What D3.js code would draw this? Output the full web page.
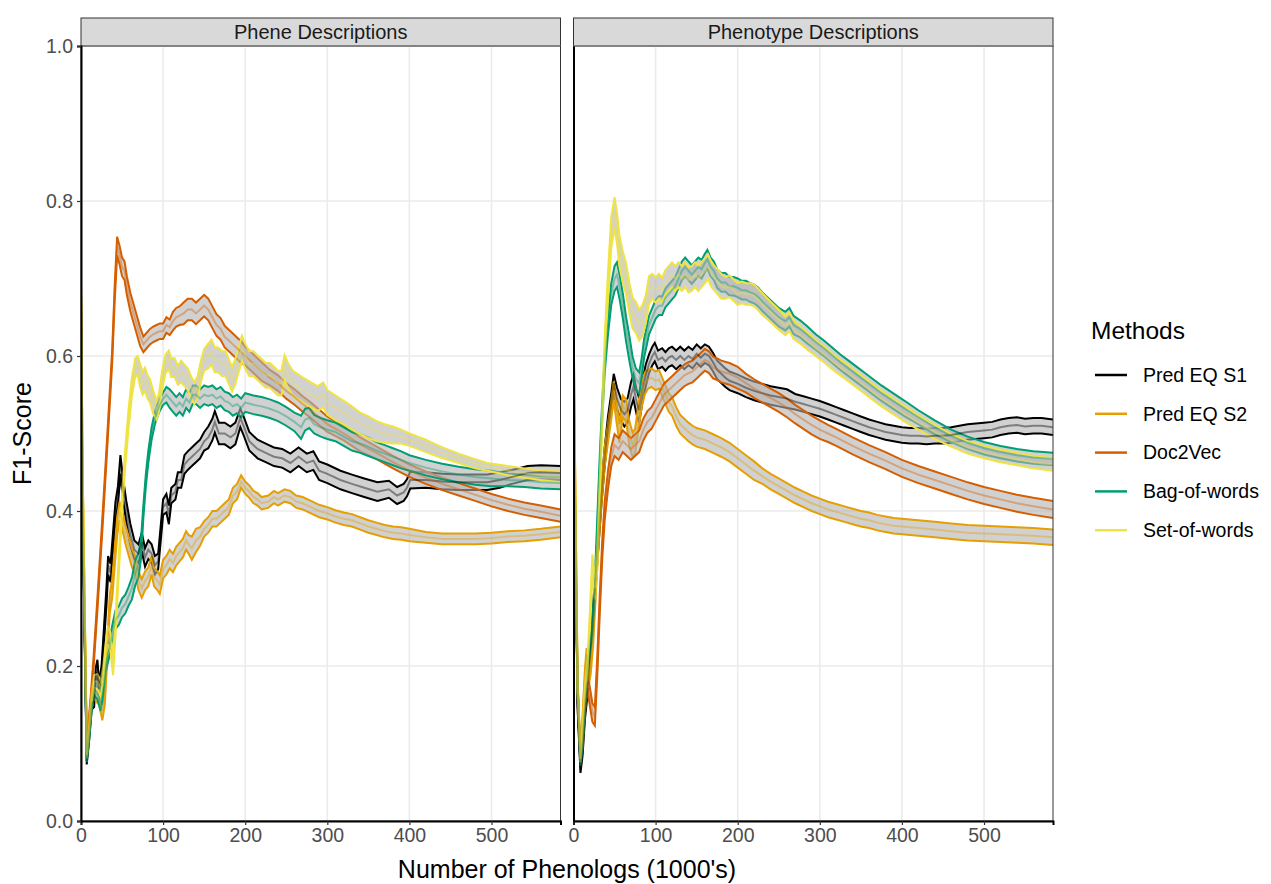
<!DOCTYPE html>
<html>
<head>
<meta charset="utf-8">
<script src="https://cdn.jsdelivr.net/npm/d3@7"></script>
<style>
  body { margin: 0; background: #fff; }
  svg text { font-family: "Liberation Sans", Arial, Helvetica, sans-serif; }
</style>
</head>
<body>
<svg id="chart"></svg>
<script>
const methods = ["Pred EQ S1", "Pred EQ S2", "Doc2Vec", "Bag-of-words", "Set-of-words"];
const methodColors = ["#000000", "#E69F00", "#D55E00", "#009E73", "#F0E442"];
const panelTitles = ["Phene Descriptions", "Phenotype Descriptions"];
const xTickValues = [0, 100, 200, 300, 400, 500];
const yTickValues = [0, 0.2, 0.4, 0.6, 0.8, 1.0];

// points are [phenologs (1000's), mean F1, half width of the band]
const pheneEqS1 = [[0,0.66,0.005],[2,0.40,0.005],[7,0.077,0.004],[10,0.11,0.005],[13,0.15,0.006],[16,0.155,0.008],[18,0.19,0.008],[20,0.20,0.008],[22,0.17,0.008],[25,0.19,0.01],[28,0.24,0.01],[31,0.29,0.012],[33,0.33,0.012],[36,0.32,0.012],[39,0.36,0.012],[42,0.40,0.012],[45,0.42,0.012],[48,0.46,0.012],[51,0.43,0.014],[55,0.40,0.014],[60,0.37,0.014],[65,0.35,0.012],[70,0.345,0.012],[74,0.36,0.012],[78,0.34,0.012],[82,0.35,0.012],[86,0.345,0.012],[90,0.33,0.012],[94,0.335,0.01],[97,0.37,0.01],[100,0.405,0.01],[104,0.41,0.012],[107,0.395,0.012],[110,0.42,0.01],[115,0.425,0.01],[118,0.44,0.01],[122,0.44,0.01],[126,0.46,0.012],[130,0.465,0.012],[135,0.47,0.012],[140,0.475,0.012],[145,0.48,0.012],[150,0.49,0.012],[155,0.495,0.014],[160,0.505,0.014],[163,0.515,0.014],[168,0.50,0.014],[175,0.50,0.014],[182,0.495,0.014],[188,0.50,0.014],[194,0.52,0.012],[198,0.51,0.012],[205,0.49,0.012],[215,0.48,0.012],[225,0.475,0.012],[235,0.47,0.012],[245,0.468,0.012],[255,0.462,0.012],[265,0.47,0.012],[275,0.462,0.012],[283,0.465,0.012],[290,0.452,0.012],[300,0.448,0.012],[316,0.44,0.012],[330,0.435,0.012],[345,0.43,0.012],[361,0.425,0.012],[375,0.428,0.011],[385,0.42,0.011],[393,0.424,0.011],[397,0.43,0.011],[401,0.44,0.011],[420,0.44,0.01],[440,0.438,0.01],[460,0.437,0.01],[480,0.437,0.01],[495,0.437,0.01],[510,0.44,0.01],[525,0.444,0.009],[544,0.449,0.009],[560,0.45,0.009],[584,0.449,0.009]];
const pheneEqS2 = [[0,0.69,0.005],[2,0.45,0.005],[7,0.10,0.005],[10,0.13,0.006],[14,0.17,0.008],[18,0.165,0.01],[22,0.16,0.01],[26,0.14,0.01],[29,0.16,0.01],[32,0.22,0.012],[35,0.28,0.012],[38,0.30,0.012],[41,0.34,0.012],[44,0.38,0.012],[47,0.40,0.012],[50,0.39,0.012],[54,0.37,0.012],[58,0.355,0.012],[62,0.34,0.012],[66,0.33,0.012],[70,0.31,0.012],[74,0.30,0.012],[78,0.31,0.012],[82,0.315,0.012],[86,0.33,0.012],[89,0.315,0.012],[93,0.31,0.012],[96,0.305,0.012],[100,0.325,0.012],[104,0.33,0.012],[108,0.338,0.012],[112,0.333,0.012],[116,0.342,0.012],[120,0.347,0.012],[124,0.352,0.012],[128,0.362,0.012],[131,0.357,0.012],[135,0.352,0.015],[140,0.362,0.015],[145,0.367,0.012],[150,0.377,0.01],[155,0.382,0.01],[160,0.39,0.01],[165,0.39,0.01],[170,0.395,0.01],[175,0.40,0.01],[180,0.405,0.01],[185,0.42,0.01],[190,0.425,0.01],[195,0.438,0.008],[200,0.43,0.008],[205,0.425,0.008],[210,0.418,0.008],[215,0.415,0.008],[220,0.41,0.008],[228,0.412,0.008],[235,0.418,0.008],[240,0.415,0.008],[248,0.42,0.008],[255,0.418,0.008],[262,0.412,0.008],[270,0.41,0.008],[280,0.405,0.008],[290,0.40,0.008],[300,0.397,0.008],[310,0.393,0.008],[320,0.39,0.008],[330,0.388,0.008],[340,0.384,0.008],[350,0.38,0.008],[360,0.377,0.008],[370,0.374,0.008],[380,0.372,0.008],[390,0.371,0.008],[400,0.369,0.008],[420,0.366,0.007],[440,0.364,0.007],[460,0.364,0.007],[480,0.364,0.007],[500,0.365,0.007],[520,0.367,0.007],[540,0.368,0.007],[560,0.37,0.007],[584,0.373,0.007]];
const pheneDoc2Vec = [[0,0.62,0.005],[2,0.40,0.005],[7,0.10,0.005],[10,0.13,0.006],[15,0.20,0.007],[20,0.28,0.008],[27,0.40,0.008],[32,0.49,0.008],[38,0.60,0.008],[41,0.68,0.01],[44,0.742,0.012],[47,0.73,0.012],[50,0.715,0.012],[53,0.71,0.012],[56,0.69,0.012],[60,0.67,0.012],[64,0.655,0.012],[68,0.64,0.012],[72,0.625,0.012],[76,0.615,0.01],[80,0.62,0.01],[84,0.625,0.01],[88,0.628,0.01],[92,0.63,0.01],[96,0.632,0.01],[100,0.632,0.01],[104,0.64,0.01],[108,0.637,0.01],[112,0.645,0.012],[116,0.65,0.012],[120,0.652,0.012],[125,0.655,0.014],[130,0.66,0.014],[135,0.66,0.014],[140,0.655,0.014],[145,0.66,0.014],[150,0.665,0.014],[155,0.66,0.014],[160,0.65,0.014],[165,0.64,0.014],[170,0.635,0.014],[175,0.625,0.014],[180,0.62,0.014],[185,0.615,0.014],[190,0.61,0.014],[195,0.605,0.014],[200,0.60,0.012],[210,0.59,0.012],[220,0.58,0.012],[230,0.572,0.01],[240,0.565,0.01],[250,0.555,0.01],[260,0.547,0.01],[270,0.538,0.01],[280,0.53,0.01],[290,0.521,0.01],[300,0.512,0.01],[320,0.50,0.009],[340,0.486,0.009],[360,0.475,0.008],[380,0.463,0.008],[400,0.452,0.008],[420,0.443,0.008],[440,0.435,0.008],[460,0.428,0.008],[480,0.421,0.008],[500,0.414,0.008],[520,0.408,0.008],[540,0.403,0.008],[560,0.399,0.008],[584,0.394,0.008]];
const pheneBagOfWords = [[0,0.64,0.005],[2,0.40,0.005],[7,0.08,0.004],[10,0.11,0.005],[13,0.15,0.007],[16,0.17,0.008],[20,0.165,0.008],[24,0.15,0.008],[27,0.17,0.008],[30,0.20,0.008],[34,0.22,0.01],[38,0.24,0.012],[42,0.26,0.012],[46,0.265,0.012],[50,0.275,0.012],[54,0.28,0.012],[58,0.29,0.012],[62,0.30,0.014],[66,0.32,0.016],[70,0.33,0.016],[73,0.35,0.012],[76,0.40,0.008],[79,0.44,0.008],[82,0.47,0.008],[86,0.50,0.008],[90,0.52,0.008],[95,0.535,0.008],[100,0.545,0.008],[104,0.55,0.01],[108,0.545,0.012],[112,0.54,0.012],[116,0.535,0.012],[120,0.54,0.012],[124,0.535,0.012],[128,0.545,0.012],[132,0.54,0.012],[136,0.55,0.012],[140,0.55,0.012],[145,0.545,0.012],[150,0.55,0.012],[155,0.548,0.012],[160,0.55,0.012],[165,0.545,0.012],[170,0.548,0.012],[175,0.542,0.012],[180,0.54,0.012],[185,0.535,0.012],[190,0.538,0.012],[195,0.533,0.012],[200,0.54,0.012],[210,0.537,0.012],[220,0.535,0.012],[230,0.532,0.012],[240,0.528,0.012],[250,0.522,0.012],[260,0.515,0.012],[268,0.508,0.015],[273,0.518,0.014],[278,0.52,0.013],[284,0.512,0.012],[292,0.508,0.012],[300,0.505,0.012],[310,0.502,0.012],[320,0.496,0.012],[330,0.49,0.012],[340,0.487,0.012],[350,0.483,0.012],[360,0.478,0.011],[370,0.474,0.011],[380,0.47,0.011],[390,0.466,0.011],[400,0.462,0.01],[420,0.456,0.01],[440,0.451,0.01],[460,0.447,0.01],[480,0.444,0.01],[500,0.442,0.01],[520,0.44,0.008],[540,0.439,0.008],[560,0.437,0.008],[584,0.436,0.008]];
const pheneSetOfWords = [[0,0.69,0.005],[2,0.45,0.005],[7,0.085,0.004],[10,0.12,0.005],[13,0.16,0.007],[16,0.18,0.008],[20,0.18,0.01],[24,0.17,0.01],[27,0.19,0.01],[30,0.22,0.01],[33,0.24,0.012],[36,0.23,0.012],[39,0.20,0.012],[42,0.25,0.012],[46,0.33,0.012],[50,0.41,0.012],[54,0.47,0.012],[58,0.52,0.012],[62,0.56,0.012],[66,0.585,0.012],[69,0.588,0.012],[72,0.575,0.015],[75,0.565,0.015],[78,0.57,0.015],[81,0.56,0.015],[84,0.555,0.015],[88,0.54,0.015],[92,0.53,0.012],[95,0.54,0.012],[99,0.57,0.012],[103,0.59,0.012],[107,0.595,0.012],[110,0.585,0.012],[114,0.585,0.012],[118,0.575,0.012],[122,0.58,0.014],[126,0.575,0.014],[130,0.57,0.014],[134,0.56,0.014],[138,0.552,0.014],[142,0.56,0.014],[146,0.58,0.014],[150,0.595,0.014],[155,0.60,0.016],[159,0.605,0.016],[163,0.595,0.016],[167,0.595,0.016],[172,0.59,0.016],[176,0.59,0.016],[180,0.58,0.016],[184,0.57,0.016],[188,0.58,0.016],[192,0.595,0.016],[196,0.61,0.016],[200,0.60,0.016],[205,0.59,0.016],[210,0.59,0.016],[215,0.585,0.016],[220,0.58,0.016],[225,0.575,0.016],[230,0.575,0.016],[235,0.57,0.016],[240,0.565,0.016],[244,0.565,0.016],[248,0.585,0.016],[252,0.575,0.016],[258,0.565,0.016],[265,0.56,0.016],[272,0.555,0.016],[280,0.55,0.016],[288,0.545,0.016],[295,0.55,0.016],[300,0.54,0.016],[310,0.533,0.016],[320,0.527,0.015],[330,0.52,0.015],[340,0.513,0.014],[350,0.508,0.014],[360,0.503,0.013],[370,0.5,0.012],[380,0.498,0.011],[390,0.496,0.009],[400,0.492,0.008],[420,0.484,0.008],[438,0.476,0.007],[460,0.468,0.006],[480,0.461,0.006],[495,0.457,0.005],[520,0.452,0.006],[540,0.449,0.006],[560,0.446,0.006],[584,0.444,0.007]];

const phenotypeEqS1 = [[0,0.60,0.005],[2,0.40,0.005],[5,0.15,0.005],[8.5,0.066,0.004],[11,0.09,0.006],[14,0.14,0.008],[17,0.17,0.008],[20,0.21,0.01],[23,0.25,0.012],[26,0.30,0.012],[30,0.36,0.012],[34,0.42,0.012],[38,0.47,0.012],[42,0.51,0.012],[46,0.54,0.012],[49,0.565,0.012],[53,0.545,0.014],[58,0.53,0.014],[62,0.525,0.016],[66,0.53,0.016],[70,0.55,0.016],[73,0.56,0.016],[77,0.54,0.016],[80,0.53,0.016],[84,0.555,0.014],[88,0.575,0.014],[92,0.59,0.012],[96,0.60,0.012],[99,0.605,0.012],[103,0.595,0.012],[108,0.598,0.012],[112,0.593,0.012],[116,0.598,0.012],[120,0.60,0.012],[125,0.595,0.012],[130,0.60,0.012],[135,0.595,0.012],[140,0.60,0.012],[145,0.596,0.012],[150,0.603,0.012],[155,0.598,0.012],[160,0.603,0.012],[165,0.60,0.012],[170,0.592,0.012],[175,0.582,0.012],[180,0.577,0.012],[185,0.572,0.012],[190,0.568,0.012],[200,0.564,0.012],[210,0.559,0.012],[220,0.555,0.012],[230,0.552,0.012],[240,0.549,0.012],[250,0.547,0.012],[260,0.545,0.012],[270,0.541,0.01],[280,0.538,0.01],[290,0.535,0.01],[300,0.532,0.01],[310,0.528,0.01],[320,0.524,0.01],[330,0.52,0.01],[340,0.516,0.01],[350,0.512,0.01],[360,0.508,0.01],[370,0.505,0.01],[380,0.502,0.01],[390,0.5,0.01],[400,0.498,0.01],[410,0.497,0.01],[420,0.497,0.01],[430,0.496,0.01],[440,0.497,0.01],[450,0.497,0.01],[460,0.498,0.01],[470,0.5,0.01],[480,0.502,0.01],[490,0.503,0.01],[500,0.504,0.01],[510,0.505,0.01],[520,0.508,0.01],[530,0.51,0.01],[540,0.511,0.01],[550,0.509,0.01],[560,0.51,0.01],[570,0.51,0.01],[584,0.508,0.01]];
const phenotypeEqS2 = [[0,0.66,0.005],[2,0.45,0.005],[5,0.18,0.005],[8.5,0.085,0.004],[11,0.13,0.006],[14,0.19,0.008],[16,0.215,0.008],[18,0.18,0.008],[21,0.20,0.01],[24,0.24,0.012],[27,0.30,0.012],[30,0.36,0.012],[34,0.42,0.012],[38,0.47,0.012],[42,0.50,0.012],[46,0.53,0.012],[49,0.555,0.012],[52,0.53,0.012],[56,0.50,0.012],[60,0.535,0.014],[64,0.53,0.014],[68,0.50,0.016],[72,0.485,0.016],[75,0.49,0.016],[79,0.52,0.016],[83,0.55,0.016],[87,0.565,0.014],[91,0.57,0.012],[95,0.572,0.012],[100,0.568,0.012],[104,0.57,0.012],[108,0.56,0.012],[112,0.55,0.012],[116,0.54,0.012],[120,0.535,0.012],[125,0.522,0.012],[130,0.512,0.012],[135,0.507,0.012],[140,0.502,0.012],[145,0.498,0.012],[150,0.495,0.012],[160,0.492,0.012],[170,0.487,0.012],[180,0.482,0.012],[190,0.476,0.012],[200,0.468,0.012],[210,0.46,0.012],[220,0.452,0.012],[230,0.445,0.01],[240,0.438,0.01],[250,0.432,0.01],[260,0.426,0.01],[270,0.42,0.01],[280,0.415,0.01],[290,0.41,0.01],[300,0.406,0.01],[310,0.402,0.01],[320,0.399,0.01],[330,0.396,0.01],[340,0.393,0.01],[350,0.39,0.01],[360,0.388,0.01],[370,0.385,0.01],[380,0.383,0.01],[390,0.381,0.01],[400,0.38,0.01],[420,0.378,0.01],[440,0.376,0.01],[460,0.374,0.01],[480,0.372,0.01],[500,0.371,0.01],[520,0.37,0.01],[540,0.369,0.01],[560,0.368,0.01],[584,0.366,0.01]];
const phenotypeDoc2Vec = [[0,0.58,0.005],[2,0.38,0.005],[5,0.17,0.005],[8.5,0.08,0.004],[11,0.10,0.006],[14,0.15,0.008],[17,0.18,0.01],[20,0.16,0.012],[23,0.14,0.012],[26,0.135,0.012],[29,0.20,0.012],[32,0.28,0.012],[35,0.35,0.012],[38,0.40,0.012],[42,0.44,0.012],[46,0.47,0.012],[50,0.485,0.014],[55,0.48,0.014],[60,0.49,0.014],[65,0.485,0.014],[70,0.48,0.014],[75,0.485,0.014],[80,0.49,0.014],[85,0.505,0.014],[90,0.515,0.014],[95,0.52,0.014],[100,0.53,0.014],[105,0.54,0.014],[110,0.55,0.014],[115,0.555,0.014],[120,0.56,0.014],[125,0.565,0.014],[130,0.57,0.014],[135,0.575,0.014],[140,0.578,0.014],[145,0.58,0.014],[150,0.585,0.014],[155,0.59,0.014],[160,0.595,0.014],[165,0.592,0.014],[170,0.585,0.014],[175,0.583,0.014],[180,0.58,0.014],[190,0.577,0.014],[200,0.572,0.014],[210,0.565,0.012],[220,0.558,0.012],[230,0.552,0.012],[240,0.546,0.012],[250,0.54,0.012],[260,0.533,0.012],[270,0.525,0.012],[280,0.518,0.012],[290,0.511,0.012],[300,0.505,0.012],[310,0.5,0.011],[320,0.495,0.011],[340,0.484,0.011],[360,0.474,0.011],[380,0.465,0.011],[400,0.455,0.011],[420,0.447,0.011],[440,0.44,0.011],[460,0.433,0.011],[480,0.426,0.011],[500,0.42,0.011],[520,0.415,0.011],[540,0.41,0.011],[560,0.406,0.011],[584,0.402,0.011]];
const phenotypeBagOfWords = [[0,0.62,0.005],[2,0.40,0.005],[5,0.17,0.005],[8.5,0.075,0.004],[11,0.10,0.006],[14,0.15,0.008],[17,0.20,0.01],[20,0.23,0.012],[23,0.25,0.012],[26,0.30,0.012],[29,0.38,0.012],[32,0.46,0.012],[35,0.53,0.012],[38,0.59,0.012],[42,0.64,0.012],[46,0.68,0.014],[50,0.70,0.016],[53,0.705,0.016],[56,0.69,0.016],[60,0.665,0.016],[64,0.635,0.016],[68,0.61,0.016],[72,0.585,0.014],[76,0.57,0.014],[80,0.565,0.014],[83,0.585,0.012],[86,0.61,0.012],[89,0.625,0.012],[92,0.64,0.012],[96,0.65,0.012],[100,0.66,0.012],[104,0.665,0.012],[108,0.665,0.012],[112,0.675,0.012],[116,0.68,0.012],[120,0.685,0.012],[124,0.69,0.012],[128,0.70,0.012],[132,0.71,0.012],[136,0.715,0.012],[140,0.71,0.012],[144,0.705,0.012],[148,0.71,0.012],[152,0.715,0.012],[156,0.712,0.012],[160,0.72,0.012],[163,0.725,0.012],[167,0.715,0.012],[171,0.71,0.012],[175,0.70,0.012],[180,0.695,0.012],[185,0.695,0.012],[190,0.69,0.012],[195,0.69,0.012],[200,0.688,0.012],[205,0.685,0.012],[210,0.685,0.012],[215,0.682,0.012],[220,0.68,0.012],[225,0.676,0.012],[230,0.67,0.012],[240,0.66,0.012],[250,0.65,0.012],[258,0.645,0.012],[263,0.65,0.012],[268,0.64,0.012],[276,0.635,0.011],[285,0.627,0.011],[295,0.618,0.01],[305,0.61,0.01],[315,0.601,0.01],[325,0.592,0.01],[335,0.584,0.01],[345,0.576,0.01],[355,0.568,0.01],[365,0.56,0.01],[375,0.552,0.01],[385,0.545,0.01],[395,0.538,0.01],[405,0.531,0.01],[420,0.521,0.009],[440,0.508,0.009],[460,0.497,0.008],[480,0.488,0.008],[500,0.481,0.008],[520,0.476,0.008],[540,0.472,0.008],[560,0.469,0.008],[584,0.467,0.008]];
const phenotypeSetOfWords = [[0,0.64,0.005],[2,0.42,0.005],[5,0.17,0.005],[8.5,0.08,0.004],[11,0.12,0.006],[14,0.17,0.008],[17,0.20,0.01],[20,0.26,0.012],[23,0.33,0.014],[26,0.30,0.014],[29,0.34,0.014],[32,0.43,0.014],[35,0.52,0.014],[38,0.61,0.016],[42,0.69,0.018],[46,0.76,0.02],[50,0.785,0.02],[53,0.765,0.02],[56,0.735,0.02],[60,0.715,0.02],[64,0.70,0.02],[68,0.675,0.02],[72,0.655,0.02],[76,0.65,0.02],[80,0.64,0.02],[84,0.645,0.02],[88,0.66,0.018],[92,0.685,0.018],[96,0.69,0.016],[100,0.685,0.016],[104,0.69,0.016],[108,0.685,0.016],[112,0.695,0.016],[116,0.70,0.016],[120,0.705,0.016],[124,0.70,0.016],[128,0.705,0.016],[132,0.70,0.016],[136,0.705,0.016],[140,0.698,0.016],[144,0.70,0.016],[148,0.705,0.016],[152,0.70,0.016],[156,0.705,0.016],[160,0.71,0.016],[164,0.715,0.016],[168,0.705,0.016],[172,0.70,0.016],[176,0.695,0.016],[180,0.69,0.016],[185,0.688,0.014],[190,0.69,0.014],[195,0.685,0.014],[200,0.68,0.014],[205,0.682,0.014],[210,0.68,0.014],[215,0.68,0.014],[220,0.678,0.014],[225,0.673,0.014],[230,0.667,0.014],[240,0.657,0.013],[250,0.647,0.013],[258,0.639,0.012],[263,0.644,0.012],[268,0.634,0.012],[276,0.627,0.011],[285,0.619,0.011],[295,0.61,0.01],[305,0.602,0.01],[315,0.593,0.01],[325,0.585,0.01],[335,0.577,0.01],[345,0.569,0.01],[355,0.561,0.01],[365,0.553,0.01],[375,0.545,0.01],[385,0.538,0.01],[395,0.531,0.01],[405,0.524,0.01],[420,0.514,0.009],[440,0.502,0.009],[460,0.491,0.008],[480,0.482,0.008],[500,0.476,0.008],[520,0.471,0.008],[540,0.467,0.008],[560,0.463,0.008],[584,0.46,0.008]];

const panelSeries = [
    [pheneEqS1, pheneEqS2, pheneDoc2Vec, pheneBagOfWords, pheneSetOfWords],
    [phenotypeEqS1, phenotypeEqS2, phenotypeDoc2Vec, phenotypeBagOfWords, phenotypeSetOfWords]
];

class FacetChart {
    constructor(_config) {
        this.config = {
            parentElement: _config.parentElement,
            containerWidth: _config.containerWidth || 1271,
            containerHeight: _config.containerHeight || 884,
            margin: { top: 46, bottom: 63, left: 81, right: 218 },
            panelGap: 13,
            stripHeight: 28
        }
        this.initVis();
    }

    initVis() {
        let vis = this;
        vis.height = vis.config.containerHeight - vis.config.margin.top - vis.config.margin.bottom;
        vis.panelWidth = (vis.config.containerWidth - vis.config.margin.left - vis.config.margin.right - vis.config.panelGap) / 2;

        vis.xScale = d3.scaleLinear().domain([0, 584]).range([0, vis.panelWidth]);
        vis.yScale = d3.scaleLinear().domain([0, 1]).range([vis.height, 0]);
        vis.colorScale = d3.scaleOrdinal().domain(methods).range(methodColors);

        vis.svg = d3.select(vis.config.parentElement)
            .attr("width", vis.config.containerWidth)
            .attr("height", vis.config.containerHeight);

        vis.svg.append("defs").append("clipPath")
            .attr("id", "panel-clip")
            .append("rect")
            .attr("width", vis.panelWidth)
            .attr("height", vis.height);

        vis.area = d3.area()
            .x(d => vis.xScale(d[0]))
            .y0(d => vis.yScale(d[1] - d[2]))
            .y1(d => vis.yScale(d[1] + d[2]));
        vis.upper = d3.line().x(d => vis.xScale(d[0])).y(d => vis.yScale(d[1] + d[2]));
        vis.lower = d3.line().x(d => vis.xScale(d[0])).y(d => vis.yScale(d[1] - d[2]));
        vis.mean = d3.line().x(d => vis.xScale(d[0])).y(d => vis.yScale(d[1]));

        vis.updateVis();
    }

    updateVis() {
        let vis = this;
        vis.panels = panelTitles.map((t, i) => ({
            title: t,
            series: panelSeries[i].map((pts, j) => ({ method: methods[j], points: pts }))
        }));
        vis.renderVis();
    }

    renderVis() {
        let vis = this;
        const tickFont = "19.5px";

        vis.panels.forEach((p, i) => {
            let left = vis.config.margin.left + i * (vis.panelWidth + vis.config.panelGap);
            let g = vis.svg.append("g")
                .attr("transform", `translate(${left},${vis.config.margin.top})`);

            // strip
            g.append("rect")
                .attr("x", 0).attr("y", -vis.config.stripHeight)
                .attr("width", vis.panelWidth).attr("height", vis.config.stripHeight)
                .attr("fill", "#D9D9D9").attr("stroke", "#333333").attr("stroke-width", 1);
            g.append("text")
                .attr("x", vis.panelWidth / 2).attr("y", -vis.config.stripHeight / 2)
                .attr("dy", "0.36em")
                .attr("text-anchor", "middle")
                .style("font-size", "20px")
                .style("fill", "#1A1A1A")
                .text(p.title);

            // grid
            g.selectAll(".vgrid").data(xTickValues.filter(d => d > 0)).join("line")
                .attr("x1", d => vis.xScale(d)).attr("x2", d => vis.xScale(d))
                .attr("y1", 0).attr("y2", vis.height)
                .attr("stroke", "#EBEBEB").attr("stroke-width", 1.6);
            g.selectAll(".hgrid").data(yTickValues.filter(d => d > 0)).join("line")
                .attr("x1", 0).attr("x2", vis.panelWidth)
                .attr("y1", d => vis.yScale(d)).attr("y2", d => vis.yScale(d))
                .attr("stroke", "#EBEBEB").attr("stroke-width", 1.6);

            let plot = g.append("g").attr("clip-path", "url(#panel-clip)");

            // ribbons with coloured edges
            p.series.forEach(s => {
                let c = vis.colorScale(s.method);
                plot.append("path").datum(s.points)
                    .attr("d", vis.area)
                    .attr("fill", "#B3B3B3").attr("fill-opacity", 0.6);
                plot.append("path").datum(s.points)
                    .attr("d", vis.upper)
                    .attr("fill", "none").attr("stroke", c).attr("stroke-width", 2);
                plot.append("path").datum(s.points)
                    .attr("d", vis.lower)
                    .attr("fill", "none").attr("stroke", c).attr("stroke-width", 2);
            });
            // mean lines
            p.series.forEach(s => {
                plot.append("path").datum(s.points)
                    .attr("d", vis.mean)
                    .attr("fill", "none")
                    .attr("stroke", vis.colorScale(s.method))
                    .attr("stroke-opacity", 0.4)
                    .attr("stroke-width", 2);
            });

            // border
            g.append("rect")
                .attr("width", vis.panelWidth).attr("height", vis.height)
                .attr("fill", "none").attr("stroke", "#333333").attr("stroke-width", 1);

            // axes
            let xAxis = d3.axisBottom(vis.xScale).tickValues(xTickValues).tickSize(4).tickPadding(3);
            let xg = g.append("g").attr("transform", `translate(0,${vis.height})`).call(xAxis);
            xg.select(".domain").attr("stroke", "#000").attr("stroke-width", 2);
            xg.selectAll(".tick line").attr("stroke", "#333").attr("stroke-width", 1.2);
            xg.selectAll(".tick text").style("font-size", tickFont).style("fill", "#4D4D4D")
                .style("font-family", "'Liberation Sans', Arial, sans-serif");

            let yAxis = d3.axisLeft(vis.yScale).tickValues(yTickValues)
                .tickFormat(d3.format(".1f")).tickSize(i === 0 ? 4 : 0).tickPadding(4);
            let yg = g.append("g").call(yAxis);
            yg.select(".domain").attr("stroke", "#000").attr("stroke-width", 2);
            yg.selectAll(".tick line").attr("stroke", "#333").attr("stroke-width", 1.2);
            yg.selectAll(".tick text").style("font-size", tickFont).style("fill", "#4D4D4D")
                .style("font-family", "'Liberation Sans', Arial, sans-serif");
            if (i > 0) yg.selectAll(".tick text").remove();
        });

        // axis titles
        let plotLeft = vis.config.margin.left;
        let plotRight = plotLeft + 2 * vis.panelWidth + vis.config.panelGap;
        vis.svg.append("text")
            .attr("x", (plotLeft + plotRight) / 2)
            .attr("y", vis.config.containerHeight - 6)
            .attr("text-anchor", "middle")
            .style("font-size", "25px")
            .text("Number of Phenologs (1000's)");
        vis.svg.append("text")
            .attr("transform", `translate(31,${vis.config.margin.top + vis.height / 2}) rotate(-90)`)
            .attr("text-anchor", "middle")
            .style("font-size", "25px")
            .text("F1-Score");

        // legend
        let legend = vis.svg.append("g").attr("transform", "translate(1091,0)");
        legend.append("text")
            .attr("x", 0).attr("y", 339)
            .style("font-size", "24.5px")
            .text("Methods");
        let items = legend.selectAll(".item").data(methods).join("g")
            .attr("transform", (d, i) => `translate(0,${375 + i * 38.8})`);
        items.append("line")
            .attr("x1", 4).attr("x2", 36)
            .attr("stroke", d => vis.colorScale(d)).attr("stroke-width", 2.5);
        items.append("text")
            .attr("x", 52).attr("dy", "0.35em")
            .style("font-size", "19.5px")
            .text(d => d);
    }
}

new FacetChart({ parentElement: "#chart" });
</script>
</body>
</html>
